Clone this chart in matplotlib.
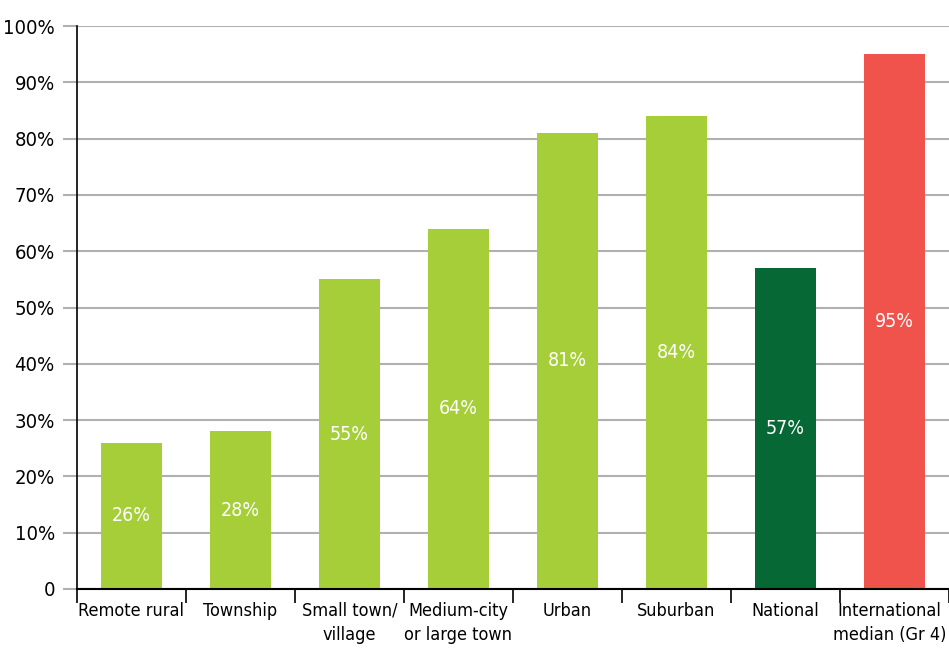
import matplotlib.pyplot as plt
from matplotlib.transforms import ScaledTranslation

categories = ['Remote rural', 'Township', 'Small town/\nvillage', 'Medium-city\nor large town',
              'Urban', 'Suburban', 'National', 'International\nmedian (Gr 4)']
values = [26, 28, 55, 64, 81, 84, 57, 95]
colors = ['#A6CE39'] * 6 + ['#066835', '#EF534B']
yticks = list(range(0, 101, 10))
ytick_labels = ['0'] + [f'{v}%' for v in yticks[1:]]

plt.rcParams['font.family'] = ['DejaVu Sans']
plt.rcParams['font.stretch'] = 'condensed'
plt.rcParams['font.size'] = 13

fig = plt.figure(figsize=(9.49, 6.5), dpi=100)
ax = fig.add_axes([77 / 949, 1 - 589 / 650, 1 - 77 / 949, (589 - 26) / 650])

x = range(len(categories))
bars = ax.bar(x, values, width=0.56, color=colors, zorder=3)

# 막대 가운데에 값 표시
for bar, v in zip(bars, values):
    ax.text(bar.get_x() + bar.get_width() / 2, v / 2, f'{v}%',
            ha='center', va='center', color='white', fontsize=14, zorder=4)

ax.set_xlim(-0.5, len(categories) - 0.5)
ax.set_ylim(0, 100)
ax.set_yticks(yticks)
ax.set_yticklabels(ytick_labels, fontsize=14.5)
ax.yaxis.grid(True, color='#b0b0b0', linewidth=1.5, zorder=0)
ax.tick_params(axis='y', length=10, color='#b0b0b0', width=1.5, pad=6)

# x축: 카테고리 경계에 눈금, 라벨은 가운데
ax.set_xticks([i - 0.5 for i in range(len(categories) + 1)])
ax.set_xticklabels([])
ax.set_xticks(list(x), minor=True)
labels = ax.set_xticklabels(categories, minor=True, linespacing=1.45)
ax.tick_params(axis='x', which='major', length=10, color='black', width=1.2)
ax.tick_params(axis='x', which='minor', length=0, pad=9)

# 마지막 라벨이 오른쪽 끝에서 잘리지 않도록 살짝 왼쪽으로
last = labels[-1]
last.set_transform(last.get_transform() + ScaledTranslation(-5 / 100, 0, fig.dpi_scale_trans))

for side in ['top', 'right']:
    ax.spines[side].set_visible(False)
ax.spines['left'].set_linewidth(1.2)
ax.spines['bottom'].set_linewidth(1.5)
ax.spines['bottom'].set_zorder(5)

fig.savefig('out.png', dpi=100)
